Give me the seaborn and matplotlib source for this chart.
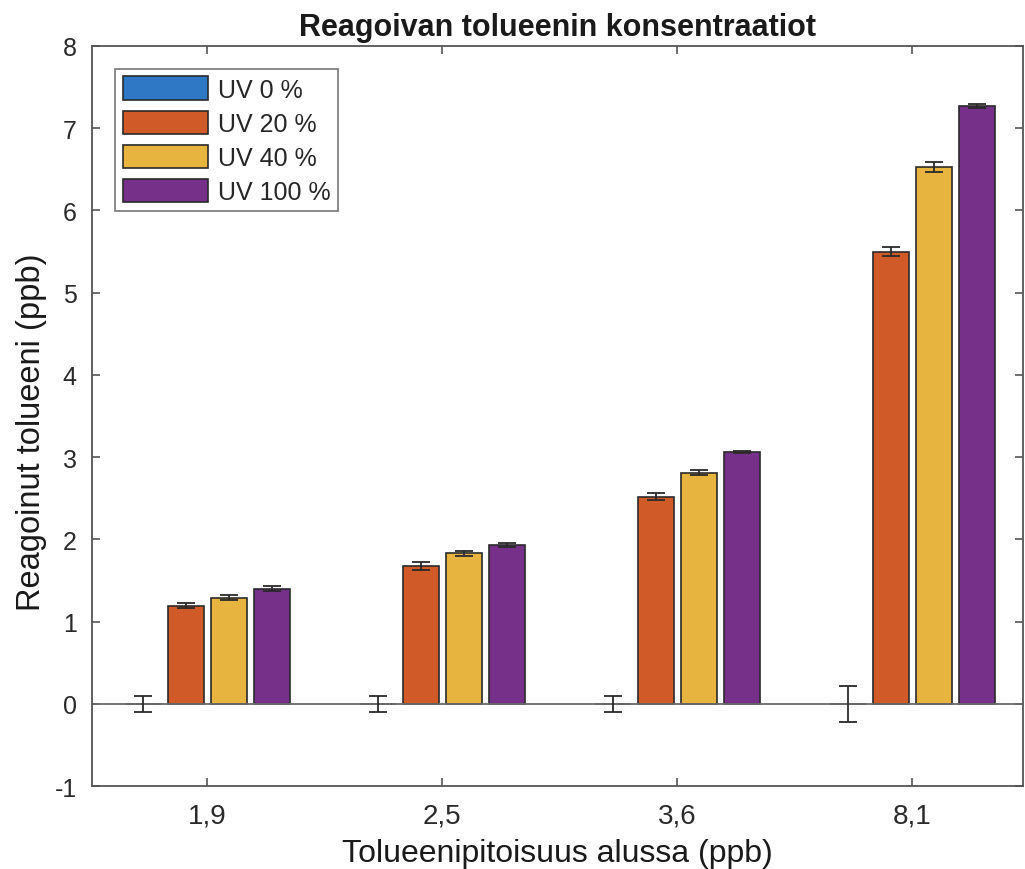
import numpy as np
import pandas as pd
import matplotlib
matplotlib.use("Agg")
import matplotlib.pyplot as plt
import seaborn as sns

# Data
start_conc = ["1,9", "2,5", "3,6", "8,1"]
uv_levels = ["UV 0 %", "UV 20 %", "UV 40 %", "UV 100 %"]
reacted = {
    "UV 0 %":   [0.00, 0.00, 0.00, 0.00],
    "UV 20 %":  [1.19, 1.68, 2.52, 5.50],
    "UV 40 %":  [1.29, 1.83, 2.81, 6.53],
    "UV 100 %": [1.40, 1.93, 3.06, 7.27],
}
errors = {
    "UV 0 %":   [0.10, 0.10, 0.10, 0.22],
    "UV 20 %":  [0.03, 0.05, 0.04, 0.06],
    "UV 40 %":  [0.03, 0.03, 0.03, 0.06],
    "UV 100 %": [0.03, 0.02, 0.01, 0.03],
}
colors = ["#2F78C6", "#D05A28", "#E8B440", "#76308A"]

title = "Reagoivan tolueenin konsentraatiot"
xlabel = "Tolueenipitoisuus alussa (ppb)"
ylabel = "Reagoinut tolueeni (ppb)"

rows = []
for lvl in uv_levels:
    for c, v, e in zip(start_conc, reacted[lvl], errors[lvl]):
        rows.append({"conc": c, "uv": lvl, "value": v, "err": e})
df = pd.DataFrame(rows)

sns.set_theme(style="white")
plt.rcParams["font.family"] = ["Liberation Sans", "DejaVu Sans"]

axis_grey = "#555555"
fig = plt.figure(figsize=(10.25, 8.7), dpi=100)
ax = fig.add_axes([0.0898, 0.0954, 0.908, 0.8506])

sns.barplot(data=df, x="conc", y="value", hue="uv", order=start_conc,
            hue_order=uv_levels, palette=colors, width=0.733, gap=0.16,
            errorbar=None, edgecolor="#2a2a2a", linewidth=1.2, ax=ax,
            saturation=1)

# Error bars at the centres of the drawn bars
for lvl, cont in zip(uv_levels, ax.containers):
    xs = [p.get_x() + p.get_width() / 2 for p in cont.patches]
    ax.errorbar(xs, reacted[lvl], yerr=errors[lvl], fmt="none",
                ecolor="#2a2a2a", elinewidth=1.3, capsize=6.5,
                capthick=1.3, zorder=5)

# Baseline at zero
ax.axhline(0, color="#6a6a6a", lw=1.3, zorder=1)

ax.set_xlim(-0.49, 3.47)
ax.set_ylim(-1, 8)
ax.set_yticks(np.arange(-1, 9, 1))
ax.set_yticklabels([str(v) for v in range(-1, 9)])

for side in ["left", "right", "top", "bottom"]:
    ax.spines[side].set_visible(True)
    ax.spines[side].set_color(axis_grey)
    ax.spines[side].set_linewidth(1.3)
ax.tick_params(axis="both", direction="in", length=6, width=1.2,
               color=axis_grey, top=True, right=True, left=True,
               bottom=True, labelcolor="#2a2a2a")
ax.tick_params(axis="y", labelsize=18, pad=11)
ax.tick_params(axis="x", labelsize=20, pad=12)

ax.set_title(title, fontsize=22, fontweight="bold", color="#1a1a1a", pad=8)
ax.set_xlabel(xlabel, fontsize=23, color="#1a1a1a", labelpad=7)
ax.set_ylabel(ylabel, fontsize=23.5, color="#1a1a1a")
ax.yaxis.set_label_coords(-0.048, 0.48)

leg = ax.legend(loc="upper left", bbox_to_anchor=(0.0247, 0.969), fontsize=18,
                frameon=True, fancybox=False, edgecolor=axis_grey,
                handlelength=3.4, handleheight=1.05, handletextpad=0.4,
                labelspacing=0.36, borderpad=0.3, borderaxespad=0)
leg.get_frame().set_linewidth(1.2)

fig.savefig("out.png", dpi=100)
